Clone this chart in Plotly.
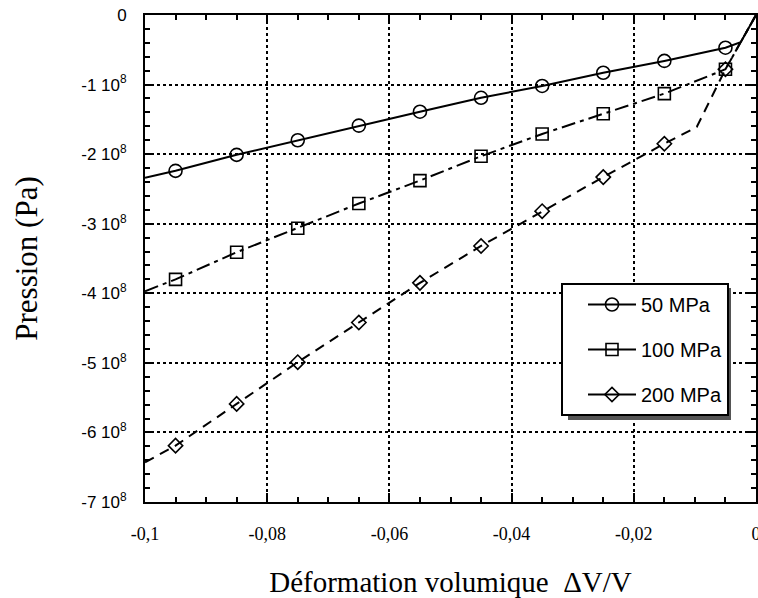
import plotly.graph_objects as go

# ---- data ----
# Line paths (strain, pressure in Pa)
x_50 = [-0.1, -0.095, -0.085, -0.075, -0.065, -0.055, -0.045, -0.035, -0.025, -0.015, -0.005, -0.0025, 0.0]
y_50 = [-2.34e8, -2.24e8, -2.01e8, -1.80e8, -1.59e8, -1.39e8, -1.19e8, -1.02e8, -0.83e8, -0.66e8, -0.47e8, -0.39e8, 0.0]

x_100 = [-0.1, -0.095, -0.085, -0.075, -0.065, -0.055, -0.045, -0.035, -0.025, -0.015, -0.005, 0.0]
y_100 = [-3.97e8, -3.80e8, -3.41e8, -3.065e8, -2.71e8, -2.38e8, -2.03e8, -1.71e8, -1.42e8, -1.13e8, -0.78e8, 0.0]

x_200 = [-0.1, -0.095, -0.085, -0.075, -0.065, -0.055, -0.045, -0.035, -0.025, -0.015, -0.0097, -0.005, 0.0]
y_200 = [-6.43e8, -6.19e8, -5.59e8, -4.99e8, -4.42e8, -3.85e8, -3.32e8, -2.82e8, -2.33e8, -1.85e8, -1.61e8, -0.78e8, 0.0]

# Marker positions
xm = [-0.095, -0.085, -0.075, -0.065, -0.055, -0.045, -0.035, -0.025, -0.015, -0.005]
ym_50 = [-2.24e8, -2.01e8, -1.80e8, -1.59e8, -1.39e8, -1.19e8, -1.02e8, -0.83e8, -0.66e8, -0.47e8]
ym_100 = [-3.80e8, -3.41e8, -3.065e8, -2.71e8, -2.38e8, -2.03e8, -1.71e8, -1.42e8, -1.13e8, -0.78e8]
ym_200 = [-6.19e8, -5.59e8, -4.99e8, -4.42e8, -3.85e8, -3.32e8, -2.82e8, -2.33e8, -1.85e8, -0.78e8]

series_names = ["50 MPa", "100 MPa", "200 MPa"]

x_tickvals = [-0.1, -0.08, -0.06, -0.04, -0.02, 0.0]
x_ticktext = ["-0,1", "-0,08", "-0,06", "-0,04", "-0,02", "0"]
y_tickvals = [0, -1e8, -2e8, -3e8, -4e8, -5e8, -6e8, -7e8]
y_ticktext = ["0"] + ["-%d 10<sup>8</sup>" % k for k in range(1, 8)]

SERIF = "Liberation Serif, Times New Roman, serif"
SANS = "Liberation Sans, Arial, sans-serif"

styles = [
    dict(dash="solid", symbol="circle-open", size=13),
    dict(dash="14px,5px,4px,5px", symbol="square-open", size=12),
    dict(dash="10px,7px", symbol="diamond-open", size=11),
]
paths = [(x_50, y_50), (x_100, y_100), (x_200, y_200)]
marks = [ym_50, ym_100, ym_200]

fig = go.Figure()
for i, name in enumerate(series_names):
    st = styles[i]
    fig.add_trace(go.Scatter(
        x=paths[i][0], y=paths[i][1], mode="lines",
        line=dict(color="black", width=2, dash=st["dash"]),
        showlegend=False, hoverinfo="skip"))
    fig.add_trace(go.Scatter(
        x=xm, y=marks[i], mode="markers",
        marker=dict(symbol=st["symbol"], size=st["size"], color="black",
                    line=dict(color="black", width=1.6)),
        showlegend=False))
    # legend entry
    fig.add_trace(go.Scatter(
        x=[None], y=[None], mode="lines+markers", name=name,
        legendgroup=name,
        line=dict(color="black", width=2, dash="solid"),
        marker=dict(symbol=st["symbol"], size=st["size"], color="black",
                    line=dict(color="black", width=1.6))))

L, R, T, B = 145, 2, 15, 96
W, H = 758, 598
pw, ph = W - L - R, H - T - B

# legend box in px
lx0, ly0, lx1, ly1 = 563, 283, 726, 415
def px2paper_x(px):
    return (px - L) / pw
def px2paper_y(py):
    return 1 - (py - T) / ph

fig.add_shape(type="rect", xref="paper", yref="paper",
              x0=px2paper_x(lx0 + 5), x1=px2paper_x(lx1 + 5),
              y0=px2paper_y(ly1 + 5), y1=px2paper_y(ly0 + 5),
              fillcolor="#555555", line=dict(width=0), layer="above")

axis_common = dict(
    showline=True, linecolor="black", linewidth=2, mirror="ticks",
    ticks="inside", tickcolor="black", tickwidth=1.5,
    showgrid=True, gridcolor="black", griddash="dot", gridwidth=1.5,
    zeroline=False, ticklabeloverflow="allow",
)

fig.update_layout(
    width=W, height=H,
    margin=dict(l=L, r=R, t=T, b=B, autoexpand=False),
    paper_bgcolor="white", plot_bgcolor="white",
    showlegend=True,
    legend=dict(
        x=px2paper_x(lx0 - 2), y=px2paper_y(ly0), xanchor="left", yanchor="top",
        bgcolor="white", bordercolor="black", borderwidth=2,
        font=dict(family=SANS, size=20, color="black"),
        traceorder="grouped", tracegroupgap=16, itemwidth=48, indentation=20,
    ),
    xaxis=dict(
        range=[-0.1, 0], tickvals=x_tickvals, ticktext=x_ticktext,
        ticklen=9,
        tickfont=dict(family=SERIF, size=18, color="black"),
        minor=dict(dtick=0.005, tick0=0, ticks="inside", ticklen=5, tickcolor="black", tickwidth=1.5, showgrid=False),
        title=dict(text="Déformation volumique  ΔV/V", font=dict(family=SERIF, size=29, color="black"), standoff=30),
        ticklabelstandoff=14,
        **axis_common,
    ),
    yaxis=dict(
        range=[-7e8, 0], tickvals=y_tickvals, ticktext=y_ticktext,
        ticklen=9,
        tickfont=dict(family=SANS, size=17, color="black"),
        minor=dict(dtick=2e7, tick0=0, ticks="inside", ticklen=5, tickcolor="black", tickwidth=1.5, showgrid=False),
        title=dict(text="Pression (Pa)", font=dict(family=SERIF, size=31, color="black"), standoff=34),
        ticklabelstandoff=13,
        **axis_common,
    ),
)

fig.write_html("out.html", config={"displayModeBar": False},
               post_script="document.body.style.margin='0';")
